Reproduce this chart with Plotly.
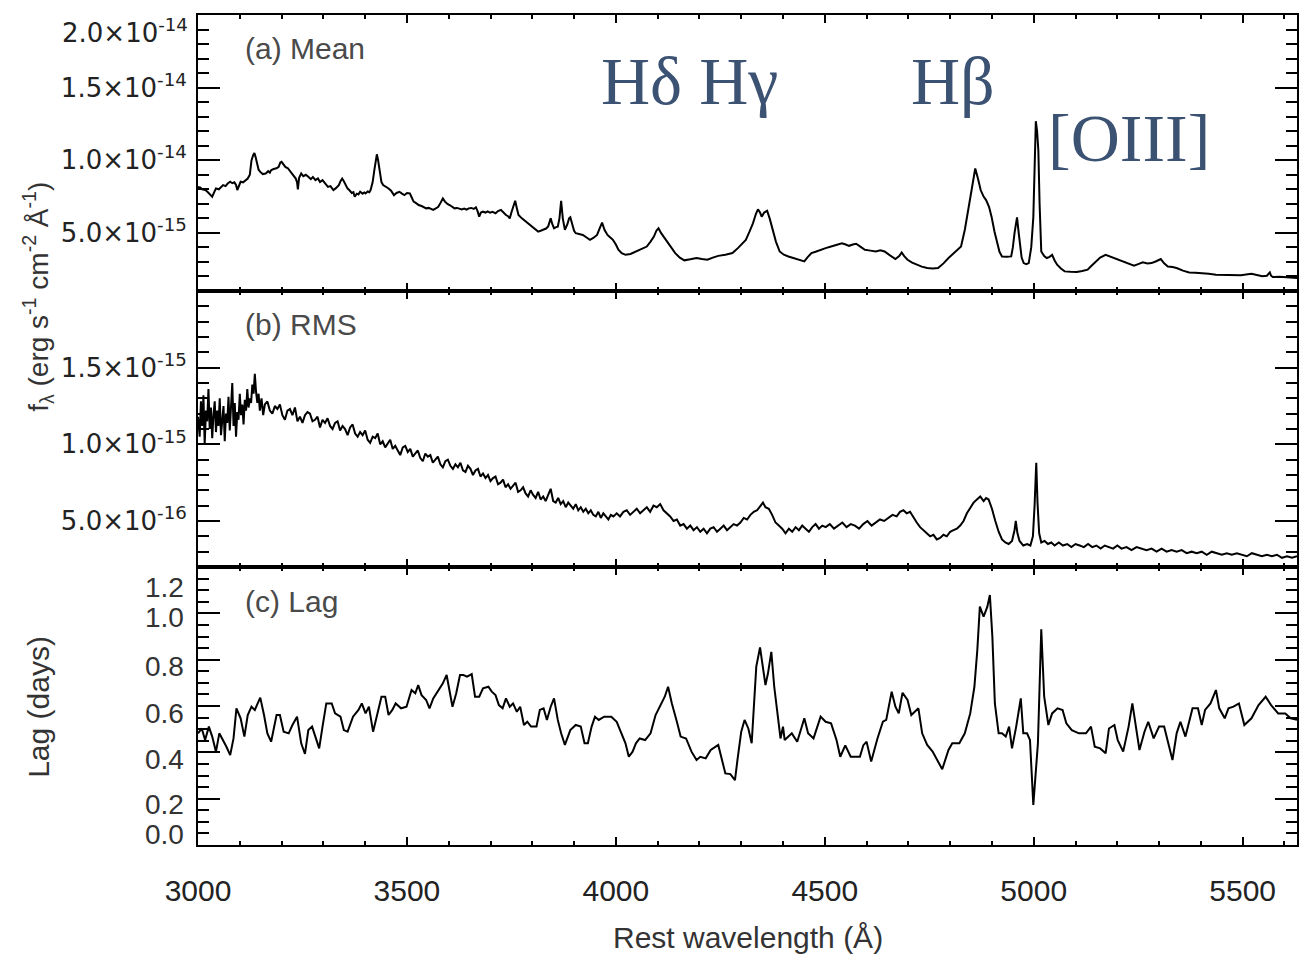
import plotly.graph_objects as go
from plotly.subplots import make_subplots

# ---------------- data ----------------
# (a) Mean spectrum, flux in units of 1e-14 erg/s/cm2/A
mean_wl = [3000, 3006, 3010, 3017, 3022, 3028, 3034, 3038, 3043, 3050, 3055, 3060, 3066, 3071, 3077, 3082, 3087,
           3091, 3094, 3098, 3102, 3108, 3113, 3119, 3124, 3128, 3132, 3135, 3138, 3141, 3145, 3149, 3155, 3162,
           3168, 3172, 3175, 3181, 3188, 3193, 3197, 3200, 3204, 3209, 3215, 3222, 3228, 3234, 3237, 3239, 3242,
           3247, 3252, 3258, 3264, 3270, 3275, 3281, 3287, 3292, 3298, 3304, 3311, 3317, 3324, 3330, 3337, 3341,
           3345, 3349, 3354, 3358, 3362, 3368, 3372, 3375, 3380, 3384, 3388, 3394, 3398, 3401, 3406, 3410, 3413,
           3418, 3422, 3426, 3428, 3431, 3435, 3439, 3443, 3449, 3456, 3462, 3469, 3475, 3482, 3488, 3494, 3500,
           3507, 3512, 3516, 3522, 3528, 3535, 3541, 3546, 3552, 3558, 3563, 3569, 3575, 3581, 3586, 3591, 3597,
           3603, 3609, 3614, 3620, 3626, 3631, 3637, 3643, 3648, 3654, 3660, 3665, 3669, 3673, 3677, 3682, 3688,
           3693, 3699, 3705, 3712, 3718, 3725, 3731, 3737, 3742, 3746, 3750, 3754, 3759, 3763, 3767, 3775, 3784,
           3792, 3801, 3807, 3814, 3820, 3827, 3833, 3838, 3840, 3844, 3848, 3852, 3857, 3861, 3865, 3869, 3873,
           3878, 3884, 3888, 3891, 3896, 3900, 3904, 3912, 3921, 3929, 3938, 3946, 3951, 3955, 3961, 3967, 3973,
           3980, 3986, 3993, 4000, 4006, 4014, 4023, 4035, 4048, 4060, 4074, 4083, 4091, 4097, 4102, 4108, 4117,
           4130, 4142, 4153, 4164, 4178, 4193, 4206, 4219, 4232, 4245, 4262, 4279, 4292, 4304, 4311, 4320, 4328,
           4335, 4340, 4345, 4349, 4355, 4362, 4368, 4375, 4383, 4392, 4402, 4413, 4423, 4434, 4442, 4451, 4458,
           4468, 4478, 4490, 4502, 4515, 4528, 4541, 4550, 4558, 4567, 4575, 4585, 4596, 4609, 4622, 4633, 4643,
           4656, 4669, 4678, 4684, 4690, 4698, 4709, 4720, 4732, 4745, 4758, 4771, 4784, 4796, 4811, 4826, 4835,
           4843, 4852, 4860, 4866, 4873, 4880, 4886, 4893, 4899, 4906, 4912, 4918, 4924, 4935, 4946, 4950, 4954,
           4960, 4964, 4967, 4971, 4976, 4982, 4988, 4994, 4999, 5002, 5005, 5008, 5011, 5014, 5018, 5025, 5031,
           5038, 5044, 5050, 5056, 5065, 5074, 5088, 5103, 5116, 5129, 5137, 5146, 5159, 5172, 5185, 5197, 5210,
           5223, 5232, 5240, 5250, 5261, 5272, 5282, 5293, 5304, 5312, 5321, 5332, 5342, 5357, 5372, 5387, 5402,
           5419, 5436, 5453, 5470, 5483, 5496, 5508, 5521, 5534, 5547, 5558, 5565, 5568, 5572, 5589, 5606, 5618,
           5630]
mean_flux = [0.817, 0.812, 0.800, 0.795, 0.785, 0.770, 0.749, 0.775, 0.806, 0.800, 0.818, 0.829, 0.822, 0.840,
             0.852, 0.842, 0.848, 0.830, 0.795, 0.830, 0.852, 0.848, 0.862, 0.874, 0.900, 0.999, 1.035, 1.050,
             1.020, 0.977, 0.935, 0.920, 0.905, 0.909, 0.925, 0.915, 0.932, 0.940, 0.945, 0.955, 0.985, 0.989,
             0.970, 0.954, 0.945, 0.920, 0.900, 0.874, 0.850, 0.800, 0.880, 0.909, 0.890, 0.900, 0.886, 0.870,
             0.885, 0.863, 0.875, 0.850, 0.863, 0.840, 0.817, 0.822, 0.795, 0.808, 0.829, 0.855, 0.874, 0.855,
             0.829, 0.805, 0.795, 0.775, 0.780, 0.749, 0.770, 0.765, 0.783, 0.770, 0.778, 0.772, 0.785, 0.780,
             0.795, 0.850, 0.932, 1.020, 1.041, 1.000, 0.909, 0.850, 0.829, 0.820, 0.806, 0.790, 0.760, 0.775,
             0.783, 0.770, 0.760, 0.775, 0.772, 0.740, 0.715, 0.705, 0.692, 0.685, 0.675, 0.669, 0.672, 0.662,
             0.658, 0.668, 0.680, 0.710, 0.737, 0.715, 0.699, 0.690, 0.680, 0.669, 0.672, 0.665, 0.662, 0.668,
             0.660, 0.669, 0.672, 0.665, 0.676, 0.650, 0.612, 0.640, 0.646, 0.640, 0.648, 0.639, 0.645, 0.635,
             0.650, 0.658, 0.640, 0.623, 0.615, 0.600, 0.640, 0.680, 0.721, 0.670, 0.623, 0.600, 0.578, 0.560,
             0.543, 0.525, 0.509, 0.515, 0.525, 0.530, 0.545, 0.566, 0.600, 0.560, 0.532, 0.540, 0.543, 0.600,
             0.721, 0.600, 0.521, 0.560, 0.600, 0.607, 0.560, 0.515, 0.498, 0.492, 0.486, 0.470, 0.452, 0.465,
             0.480, 0.486, 0.530, 0.571, 0.520, 0.486, 0.470, 0.452, 0.420, 0.384, 0.360, 0.349, 0.355, 0.372,
             0.385, 0.406, 0.440, 0.475, 0.515, 0.532, 0.500, 0.463, 0.410, 0.361, 0.330, 0.311, 0.318, 0.327,
             0.320, 0.315, 0.330, 0.342, 0.350, 0.361, 0.395, 0.429, 0.452, 0.510, 0.566, 0.630, 0.662, 0.640,
             0.612, 0.640, 0.653, 0.600, 0.521, 0.440, 0.372, 0.350, 0.338, 0.330, 0.320, 0.312, 0.304, 0.330,
             0.361, 0.370, 0.384, 0.395, 0.406, 0.418, 0.429, 0.420, 0.411, 0.420, 0.425, 0.405, 0.384, 0.378,
             0.372, 0.380, 0.372, 0.345, 0.320, 0.340, 0.365, 0.340, 0.315, 0.295, 0.281, 0.268, 0.258, 0.255,
             0.258, 0.290, 0.327, 0.365, 0.406, 0.520, 0.658, 0.820, 0.943, 0.880, 0.795, 0.750, 0.726, 0.680,
             0.612, 0.510, 0.429, 0.370, 0.338, 0.335, 0.338, 0.400, 0.498, 0.607, 0.500, 0.406, 0.330, 0.292,
             0.285, 0.292, 0.400, 0.607, 0.950, 1.269, 1.200, 1.069, 0.700, 0.372, 0.340, 0.327, 0.335, 0.349,
             0.310, 0.281, 0.255, 0.235, 0.232, 0.231, 0.238, 0.247, 0.270, 0.297, 0.330, 0.349, 0.335, 0.320,
             0.305, 0.292, 0.280, 0.274, 0.285, 0.297, 0.290, 0.292, 0.305, 0.320, 0.290, 0.269, 0.265, 0.258,
             0.240, 0.228, 0.226, 0.224, 0.218, 0.212, 0.210, 0.208, 0.210, 0.208, 0.214, 0.219, 0.210, 0.201,
             0.205, 0.228, 0.205, 0.196, 0.198, 0.196, 0.193, 0.190]

# (b) RMS spectrum, flux in units of 1e-15 erg/s/cm2/A
rms_wl = [3000, 3004, 3007, 3010, 3013, 3016, 3019, 3022, 3025, 3028, 3031, 3034, 3037, 3040, 3043, 3046, 3049,
          3052, 3055, 3058, 3061, 3064, 3067, 3070, 3073, 3076, 3079, 3082, 3085, 3088, 3091, 3094, 3097, 3100,
          3103, 3106, 3109, 3112, 3115, 3118, 3121, 3124, 3127, 3130, 3133, 3136, 3139, 3142, 3145, 3148, 3152,
          3156,
          3160, 3166, 3172, 3178, 3184, 3190, 3196, 3202, 3208, 3214, 3220, 3226, 3232, 3238, 3244, 3250, 3256,
          3262, 3268, 3274, 3280, 3286, 3292, 3298, 3304, 3310, 3316, 3322, 3328, 3334, 3340, 3346, 3352, 3358,
          3364, 3370, 3376, 3382, 3388, 3394, 3400, 3406, 3412, 3418, 3424, 3430, 3436, 3442, 3448, 3454, 3460,
          3466, 3472, 3478, 3484, 3490, 3496, 3502, 3508, 3514, 3520, 3526, 3532, 3538, 3544, 3550, 3556, 3562,
          3568, 3574, 3580, 3586, 3592, 3598, 3604, 3610, 3616, 3622, 3628, 3634, 3640, 3646, 3652, 3658, 3664,
          3670, 3676, 3682, 3688, 3694, 3700, 3706, 3712, 3718, 3724, 3730, 3736, 3742, 3748, 3754, 3760, 3766,
          3772, 3778, 3784, 3790, 3796, 3802, 3808, 3814, 3820, 3826, 3832, 3838, 3844, 3850, 3856, 3862, 3868,
          3874, 3880, 3886, 3892, 3898, 3904, 3910, 3916, 3922, 3928, 3934, 3940, 3946, 3952, 3958, 3964, 3970,
          3976, 3982, 3988, 3994,
          4002, 4010, 4018, 4026, 4034, 4042, 4050, 4058, 4066, 4074, 4082, 4090, 4098, 4106, 4114, 4122, 4130,
          4138, 4146, 4154, 4162, 4170, 4178, 4186, 4194, 4202, 4210, 4218, 4226, 4234, 4242, 4250, 4258, 4266,
          4274, 4282, 4290, 4298, 4306, 4314, 4322, 4330, 4338, 4346, 4352, 4358, 4366, 4374, 4382, 4390, 4398,
          4406, 4414, 4422, 4430, 4438, 4446, 4454, 4462, 4470, 4478, 4486, 4494, 4502, 4512, 4522, 4532, 4542,
          4552, 4562, 4572, 4582, 4592, 4602, 4612, 4622, 4632, 4642, 4652, 4662, 4672, 4680, 4688, 4696, 4704,
          4712, 4720, 4728, 4736, 4744, 4752, 4760, 4768, 4776, 4784, 4792, 4800, 4808, 4816, 4824, 4832, 4840,
          4848, 4856, 4864, 4872, 4880, 4886, 4892, 4900, 4908, 4916, 4924, 4932, 4940, 4948, 4954, 4957, 4961,
          4966, 4975, 4984, 4992, 4998, 5002, 5006, 5009, 5013, 5018, 5026, 5034, 5042, 5050, 5060, 5070, 5080,
          5090, 5100, 5110, 5120, 5130, 5140, 5150, 5160, 5170, 5180, 5190, 5200, 5210, 5222, 5234, 5246, 5258,
          5270, 5282, 5294, 5306, 5318, 5330, 5342, 5354, 5366, 5378, 5390, 5402, 5414, 5426, 5438, 5450, 5462,
          5474, 5486, 5498, 5510, 5522, 5534, 5546, 5558, 5570, 5582, 5594, 5606, 5618, 5630]
rms_flux = [1.18, 1.05, 1.28, 1.12, 1.32, 1.00, 1.22, 1.15, 1.36, 1.10, 1.24, 1.04, 1.19, 1.28, 1.08, 1.22, 1.12,
            1.30, 1.06, 1.18, 1.25, 1.02, 1.20, 1.14, 1.31, 1.09, 1.24, 1.40, 1.12, 1.27, 1.05, 1.21, 1.16, 1.33,
            1.19, 1.26, 1.13, 1.29, 1.22, 1.36, 1.24, 1.30, 1.27, 1.39, 1.33, 1.46, 1.34, 1.27, 1.33, 1.22, 1.30,
            1.19,
            1.26, 1.28, 1.22, 1.20, 1.25, 1.23, 1.26, 1.19, 1.16, 1.22, 1.23, 1.19, 1.24, 1.15, 1.18, 1.14, 1.19,
            1.21, 1.20, 1.15, 1.16, 1.18, 1.11, 1.16, 1.14, 1.17, 1.12, 1.10, 1.14, 1.15, 1.09, 1.12, 1.10, 1.06,
            1.11, 1.13, 1.07, 1.05, 1.08, 1.06, 1.09, 1.03, 1.01, 1.05, 1.04, 1.07, 1.00, 1.02, 0.98, 1.01, 1.03,
            0.97, 0.99, 0.96, 0.93, 0.98, 0.99, 0.95, 0.97, 0.92, 0.94, 0.96, 0.91, 0.89, 0.94, 0.92, 0.93, 0.88,
            0.90, 0.92, 0.87, 0.85, 0.89, 0.90, 0.86, 0.84, 0.87, 0.85, 0.88, 0.83, 0.82, 0.86, 0.84, 0.80, 0.83,
            0.84, 0.79, 0.81, 0.78, 0.80, 0.76, 0.78, 0.79, 0.74, 0.75, 0.77, 0.72, 0.74, 0.71, 0.73, 0.75, 0.69,
            0.70, 0.72, 0.68, 0.66, 0.70, 0.67, 0.65, 0.69, 0.64, 0.66, 0.63, 0.67, 0.71, 0.63, 0.62, 0.65, 0.61,
            0.63, 0.59, 0.62, 0.60, 0.58, 0.61, 0.57, 0.59, 0.56, 0.58, 0.55, 0.57, 0.54, 0.53, 0.56, 0.52, 0.55,
            0.53, 0.51, 0.54, 0.53,
            0.55, 0.53, 0.56, 0.57, 0.54, 0.56, 0.58, 0.55, 0.57, 0.59, 0.56, 0.60, 0.59, 0.61, 0.57, 0.55, 0.53,
            0.50, 0.51, 0.47, 0.48, 0.45, 0.47, 0.44, 0.46, 0.43, 0.45, 0.42, 0.45, 0.46, 0.43, 0.45, 0.47, 0.44,
            0.46, 0.48, 0.47, 0.49, 0.52, 0.51, 0.54, 0.56, 0.57, 0.60, 0.62, 0.59, 0.58, 0.54, 0.49, 0.47, 0.45,
            0.42, 0.45, 0.43, 0.46, 0.44, 0.47, 0.45, 0.43, 0.46, 0.48, 0.45, 0.47, 0.46, 0.48, 0.45, 0.47, 0.49,
            0.46, 0.48, 0.47, 0.45, 0.48, 0.50, 0.47, 0.49, 0.51, 0.50, 0.52, 0.54, 0.53, 0.56, 0.57, 0.55, 0.56,
            0.52, 0.49, 0.46, 0.44, 0.42, 0.40, 0.41, 0.38, 0.39, 0.41, 0.40, 0.43, 0.44, 0.45, 0.47, 0.50, 0.55,
            0.59, 0.62, 0.64, 0.66, 0.63, 0.65, 0.64, 0.58, 0.50, 0.43, 0.38, 0.36, 0.35, 0.37, 0.44, 0.50, 0.42,
            0.37, 0.34, 0.35, 0.34, 0.40, 0.60, 0.88, 0.62, 0.42, 0.36, 0.37, 0.35, 0.36, 0.34, 0.36, 0.34, 0.35,
            0.33, 0.35, 0.34, 0.33, 0.35, 0.33, 0.34, 0.32, 0.34, 0.33, 0.32, 0.34, 0.32, 0.33, 0.31, 0.33, 0.32,
            0.31, 0.32, 0.30, 0.32, 0.30, 0.31, 0.30, 0.31, 0.29, 0.30, 0.29, 0.30, 0.28, 0.30, 0.29, 0.28, 0.29,
            0.28, 0.29, 0.28, 0.27, 0.29, 0.28, 0.27, 0.28, 0.27, 0.28, 0.26, 0.27, 0.26, 0.27]

# (c) Lag spectrum, days
lag_wl = [3000, 3009, 3017, 3026, 3034, 3043, 3051, 3060, 3068, 3077, 3085, 3092, 3102, 3111, 3119, 3128, 3136,
          3141, 3149, 3158, 3166, 3175, 3188, 3196, 3205, 3217, 3226, 3237, 3247, 3256, 3264, 3273, 3281, 3290,
          3298, 3307, 3320, 3328, 3341, 3349, 3358, 3371, 3384, 3392, 3401, 3409, 3419, 3426, 3439, 3448, 3456,
          3465, 3473, 3486, 3499, 3511, 3520, 3527, 3535, 3546, 3554, 3563, 3571, 3580, 3586, 3595, 3601, 3609,
          3618, 3627, 3635, 3644, 3655, 3663, 3673, 3682, 3695, 3703, 3712, 3720, 3729, 3737, 3746, 3754, 3763,
          3771, 3780, 3788, 3797, 3810, 3818, 3827, 3835, 3844, 3852, 3861, 3869, 3878, 3891, 3904, 3916, 3925,
          3933, 3942, 3950, 3959, 3972, 3989, 4002, 4014, 4023, 4031, 4040, 4048, 4057, 4070, 4083, 4095, 4108,
          4117, 4125, 4134, 4146, 4155, 4168, 4181, 4193, 4202, 4215, 4227, 4245, 4253, 4262, 4274, 4285, 4291,
          4300, 4308, 4317, 4325, 4336, 4345, 4353, 4358, 4364, 4372, 4379, 4387, 4394, 4400, 4404, 4421, 4434,
          4451, 4460, 4473, 4481, 4490, 4502, 4515, 4528, 4537, 4549, 4562, 4584, 4592, 4600, 4611, 4626, 4639,
          4647, 4652, 4660, 4669, 4677, 4686, 4698, 4707, 4724, 4733, 4745, 4758, 4771, 4781, 4796, 4805, 4822,
          4835, 4848, 4858, 4865, 4871, 4880, 4889, 4895, 4901, 4907, 4916, 4924, 4933, 4941, 4948, 4958, 4969,
          4975, 4984, 4991, 4999, 5010, 5018, 5025, 5035, 5044, 5057, 5069, 5078, 5091, 5108, 5125, 5137, 5146,
          5159, 5172, 5180, 5193, 5201, 5214, 5227, 5236, 5244, 5253, 5265, 5274, 5287, 5300, 5312, 5325, 5332,
          5342, 5351, 5363, 5380, 5393, 5402, 5410, 5423, 5436, 5444, 5457, 5466, 5478, 5491, 5504, 5521, 5538,
          5555, 5568, 5585, 5602, 5615, 5630]
lag_days = [0.482, 0.503, 0.453, 0.511, 0.468, 0.403, 0.482, 0.453, 0.424, 0.388, 0.460, 0.590, 0.547, 0.468,
            0.561, 0.597, 0.583, 0.604, 0.636, 0.561, 0.482, 0.446, 0.561, 0.561, 0.489, 0.482, 0.518, 0.554,
            0.439, 0.393, 0.496, 0.511, 0.468, 0.417, 0.511, 0.611, 0.611, 0.568, 0.554, 0.496, 0.489, 0.554,
            0.583, 0.611, 0.568, 0.597, 0.489, 0.540, 0.640, 0.640, 0.561, 0.583, 0.611, 0.590, 0.597, 0.669,
            0.655, 0.690, 0.647, 0.626, 0.590, 0.633, 0.655, 0.676, 0.698, 0.734, 0.676, 0.597, 0.655, 0.734,
            0.734, 0.727, 0.738, 0.640, 0.640, 0.676, 0.683, 0.662, 0.647, 0.604, 0.590, 0.633, 0.597, 0.611,
            0.575, 0.597, 0.518, 0.532, 0.511, 0.511, 0.583, 0.590, 0.540, 0.597, 0.633, 0.540, 0.482, 0.432,
            0.496, 0.518, 0.511, 0.439, 0.439, 0.511, 0.554, 0.540, 0.554, 0.554, 0.532, 0.482, 0.439, 0.381,
            0.403, 0.439, 0.460, 0.453, 0.482, 0.561, 0.611, 0.640, 0.683, 0.611, 0.532, 0.468, 0.460, 0.403,
            0.367, 0.381, 0.374, 0.410, 0.432, 0.374, 0.309, 0.306, 0.280, 0.367, 0.489, 0.540, 0.503, 0.439,
            0.770, 0.853, 0.741, 0.690, 0.741, 0.834, 0.683, 0.554, 0.460, 0.511, 0.453, 0.482, 0.446, 0.547,
            0.482, 0.460, 0.503, 0.554, 0.532, 0.525, 0.453, 0.381, 0.430, 0.381, 0.381, 0.430, 0.446, 0.360,
            0.460, 0.532, 0.540, 0.583, 0.662, 0.597, 0.568, 0.657, 0.626, 0.561, 0.590, 0.482, 0.432, 0.403,
            0.360, 0.327, 0.410, 0.439, 0.439, 0.482, 0.568, 0.683, 0.842, 1.029, 0.986, 1.029, 1.079, 0.899,
            0.611, 0.482, 0.482, 0.468, 0.511, 0.417, 0.511, 0.633, 0.482, 0.482, 0.453, 0.173, 0.439, 0.931,
            0.640, 0.518, 0.568, 0.590, 0.583, 0.525, 0.496, 0.482, 0.482, 0.511, 0.424, 0.417, 0.396, 0.503,
            0.518, 0.453, 0.403, 0.511, 0.611, 0.511, 0.410, 0.489, 0.532, 0.460, 0.511, 0.511, 0.424, 0.367,
            0.482, 0.532, 0.468, 0.590, 0.590, 0.518, 0.583, 0.611, 0.669, 0.590, 0.547, 0.590, 0.597, 0.611,
            0.518, 0.547, 0.604, 0.640, 0.604, 0.568, 0.568, 0.547, 0.540]

# axis ticks / labels
x_range = [3000, 5630]
x_ticks = [3000, 3500, 4000, 4500, 5000, 5500]
a_ticks = [5e-15, 1e-14, 1.5e-14, 2e-14]
a_text = ["5.0×10<sup>-15</sup>", "1.0×10<sup>-14</sup>", "1.5×10<sup>-14</sup>", ""]
a_top_label = "2.0×10<sup>-14</sup>"
b_ticks = [5e-16, 1e-15, 1.5e-15, 2e-15]
b_text = ["5.0×10<sup>-16</sup>", "1.0×10<sup>-15</sup>", "1.5×10<sup>-15</sup>", ""]
c_ticks = [0.0, 0.2, 0.4, 0.6, 0.8, 1.0, 1.2]
c_text = ["0.0", "0.2", "0.4", "0.6", "0.8", "1.0", "1.2"]
c_label_shift = [11, -6, -7, -7, -7, -4, -20]   # label nudges (px) as laid out in the original figure

# ---------------- figure ----------------
FONT = "Liberation Sans, Arial, Helvetica, sans-serif"
YFONT = "DejaVu Sans, Liberation Sans, sans-serif"
SERIF = "Liberation Serif, DejaVu Serif, serif"
LABEL_COLOR = "#3b5273"

fig = make_subplots(rows=3, cols=1, shared_xaxes=True, vertical_spacing=0,
                    row_heights=[276, 276, 278])

line = dict(color="black", width=2)
fig.add_trace(go.Scatter(x=mean_wl, y=[v * 1e-14 for v in mean_flux], mode="lines", line=line,
                         showlegend=False), row=1, col=1)
fig.add_trace(go.Scatter(x=rms_wl, y=[v * 1e-15 for v in rms_flux], mode="lines", line=line,
                         showlegend=False), row=2, col=1)
fig.add_trace(go.Scatter(x=lag_wl, y=lag_days, mode="lines", line=line, showlegend=False), row=3, col=1)

common_axis = dict(showline=True, linecolor="black", mirror="allticks", ticks="inside",
                   tickcolor="black", showgrid=False, zeroline=False)

for r in (1, 2, 3):
    fig.update_xaxes(range=x_range, tickvals=x_ticks, ticklen=8, tickwidth=1.5, linewidth=1.5,
                     minor=dict(dtick=100, tick0=3000, ticklen=4, tickwidth=1.5, ticks="inside",
                                tickcolor="black", showgrid=False),
                     showticklabels=(r == 3), row=r, col=1, **common_axis)

fig.update_xaxes(tickfont=dict(family=FONT, size=30, color="#222"), ticklabelstandoff=18, row=3, col=1)

ytick_font = dict(family=YFONT, size=26, color="#222")
fig.update_yaxes(range=[1e-15, 2e-14], tickvals=a_ticks, ticktext=a_text, ticklen=22, tickwidth=2,
                 linewidth=2,
                 minor=dict(dtick=1e-15, tick0=0, ticklen=11, tickwidth=2, ticks="inside", tickcolor="black",
                            showgrid=False),
                 tickfont=ytick_font, ticklabelstandoff=4, row=1, col=1, **common_axis)
fig.update_yaxes(range=[2e-16, 2e-15], tickvals=b_ticks, ticktext=b_text, ticklen=22, tickwidth=2,
                 linewidth=2,
                 minor=dict(dtick=1e-16, tick0=0, ticklen=11, tickwidth=2, ticks="inside", tickcolor="black",
                            showgrid=False),
                 tickfont=ytick_font, ticklabelstandoff=4, row=2, col=1, **common_axis)
cfont = dict(family=FONT, size=28, color="#333")
fig.update_yaxes(range=[0, 1.2], tickvals=c_ticks, showticklabels=False, ticklen=22, tickwidth=2,
                 linewidth=2,
                 minor=dict(dtick=0.05, tick0=0, ticklen=11, tickwidth=2, ticks="inside", tickcolor="black",
                            showgrid=False),
                 row=3, col=1, **common_axis)

panel_font = dict(family=FONT, size=30, color="#4a4a4a")
line_font = dict(family=SERIF, size=68, color=LABEL_COLOR)
annotations = [
    dict(text="(a) Mean", xref="paper", yref="y domain", x=0.041, y=0.877, xanchor="left", yanchor="middle",
         showarrow=False, font=panel_font),
    dict(text="(b) RMS", xref="paper", yref="y2 domain", x=0.041, y=0.877, xanchor="left", yanchor="middle",
         showarrow=False, font=panel_font),
    dict(text="(c) Lag", xref="paper", yref="y3 domain", x=0.041, y=0.877, xanchor="left", yanchor="middle",
         showarrow=False, font=panel_font),
    dict(text="Hδ Hγ", xref="x", yref="paper", x=4175, y=0.921, xanchor="center", yanchor="middle",
         showarrow=False, font=line_font),
    dict(text="Hβ", xref="x", yref="paper", x=4806, y=0.921, xanchor="center", yanchor="middle",
         showarrow=False, font=line_font),
    dict(text="[OIII]", xref="x", yref="paper", x=5229, y=0.852, xanchor="center", yanchor="middle",
         showarrow=False, font=line_font),
    dict(text=a_top_label, xref="paper", yref="y", x=-0.0075, y=a_ticks[-1], yshift=-16, xanchor="right",
         yanchor="middle", showarrow=False, font=ytick_font),
    dict(text="f<sub>λ</sub> (erg s<sup>-1</sup> cm<sup>-2</sup> Å<sup>-1</sup>)", xref="paper", yref="paper",
         x=-0.145, y=0.660, xanchor="center", yanchor="middle", textangle=-90, showarrow=False,
         font=dict(family=FONT, size=28, color="#333")),
    dict(text="Lag (days)", xref="paper", yref="paper", x=-0.145, y=0.166, xanchor="center",
         yanchor="middle", textangle=-90, showarrow=False, font=dict(family=FONT, size=30, color="#333")),
    dict(text="Rest wavelength (Å)", xref="paper", yref="paper", x=0.5, y=-0.112, xanchor="center",
         yanchor="middle", showarrow=False, font=dict(family=FONT, size=30, color="#333")),
]
for val, txt, shift in zip(c_ticks, c_text, c_label_shift):
    annotations.append(dict(text=txt, xref="paper", yref="y3", x=-0.0112, y=val, yshift=shift,
                            xanchor="right", yanchor="middle", showarrow=False, font=cfont))

fig.update_layout(width=1300, height=956, margin=dict(l=198, r=1, t=15, b=111),
                  plot_bgcolor="white", paper_bgcolor="white", annotations=annotations,
                  font=dict(family=FONT))

fig.write_html("out.html")
